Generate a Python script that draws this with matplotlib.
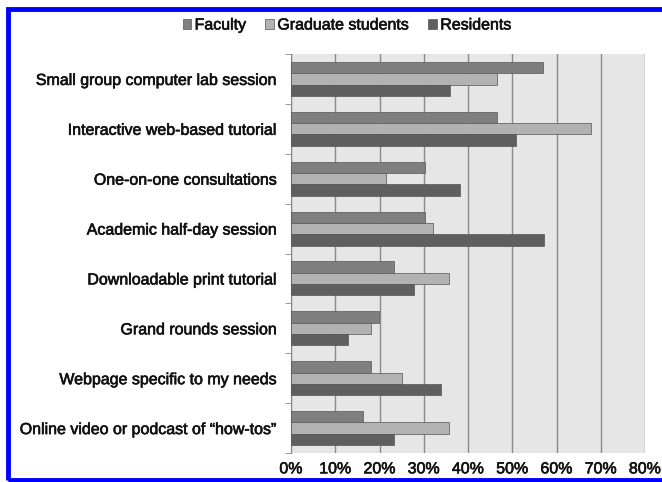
import matplotlib.pyplot as plt
import matplotlib.patheffects as pe
import numpy as np
from matplotlib.patches import Rectangle
from matplotlib.ticker import PercentFormatter

plt.rcParams['font.family'] = ['Liberation Sans', 'DejaVu Sans']

categories = ['Small group computer lab session', 'Interactive web-based tutorial',
              'One-on-one consultations', 'Academic half-day session',
              'Downloadable print tutorial', 'Grand rounds session',
              'Webpage specific to my needs', 'Online video or podcast of \u201chow-tos\u201d']
faculty = [57.0, 46.5, 30.2, 30.2, 23.3, 19.8, 18.0, 16.3]
graduate = [46.5, 67.8, 21.5, 32.0, 35.6, 18.0, 25.0, 35.6]
residents = [36.0, 50.9, 38.2, 57.2, 27.7, 12.8, 34.0, 23.3]

series = [('Faculty', faculty, '#7f7f7f'),
          ('Graduate students', graduate, '#b2b2b2'),
          ('Residents', residents, '#5f5f5f')]

fig = plt.figure(figsize=(6.62, 4.82), dpi=100)
ax = fig.add_axes([291 / 662, 1 - 453 / 482, (645 - 291) / 662, (453 - 54) / 482])

n = len(categories)
pos = np.arange(n)[::-1]
h = 0.227
for i, (name, vals, col) in enumerate(series):
    ax.barh(pos + (1 - i) * h, vals, height=h, color=col, edgecolor='#555555',
            linewidth=0.5, label=name, zorder=3)

fs = 11.5
ax.set_xlim(0, 80)
ax.set_ylim(-0.5, n - 0.5)
ax.set_xticks(np.arange(0, 81, 10))
ax.xaxis.set_major_formatter(PercentFormatter(decimals=0))
ax.set_yticks(pos)
ax.set_yticklabels(categories)
ax.set_yticks(np.arange(-0.5, n, 1), minor=True)
ax.tick_params(axis='y', which='major', length=0, pad=10, labelsize=fs, colors='#111111')
ax.tick_params(axis='y', which='minor', length=4, color='#888888')
ax.tick_params(axis='x', length=0, labelsize=fs, pad=6, colors='#111111')
ax.set_facecolor('#e6e6e6')
ax.grid(axis='x', color='#8a8a8a', linewidth=1, zorder=0)
for s in ['top', 'right', 'bottom']:
    ax.spines[s].set_visible(False)
ax.spines['left'].set_color('#888888')

leg = ax.legend(loc='center', bbox_to_anchor=(347 / 662, 1 - 25 / 482), bbox_transform=fig.transFigure,
                ncol=3, frameon=False, fontsize=fs, handlelength=0.55, handleheight=0.55,
                handletextpad=0.2, columnspacing=1.2, labelcolor='#111111')

# the scanned text looks heavier, thicken a little
thick = [pe.withStroke(linewidth=0.45, foreground='#111111')]
for t in ax.get_xticklabels() + ax.get_yticklabels() + leg.get_texts():
    t.set_path_effects(thick)

fig.patches.append(Rectangle((7.5 / 662, 1 - 480 / 482), 1.2, 471 / 482,
                             transform=fig.transFigure, fill=False,
                             edgecolor='#0000ff', linewidth=3.5))

fig.savefig('out.png', dpi=100)
